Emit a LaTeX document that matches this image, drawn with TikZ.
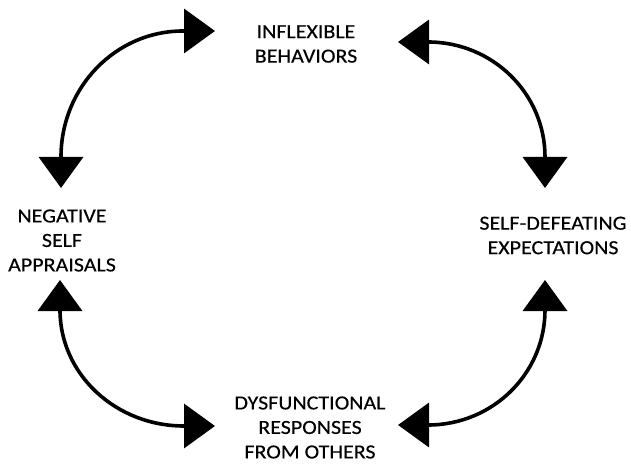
\documentclass[tikz,border=0pt]{standalone}
\usepackage{fontspec}
\setmainfont{Carlito}[FakeStretch=1.1,FakeBold=0.3]
\usetikzlibrary{arrows.meta}
\begin{document}
\begin{tikzpicture}[x=1pt,y=1pt,
  label/.style={align=center,inner sep=0pt,font=\fontsize{20}{24.5}\selectfont},
  cycle/.style={line width=3.6pt,{Triangle[length=31pt,width=44pt]}-{Triangle[length=31pt,width=44pt]}}]
\useasboundingbox (0,0) rectangle (631,466);
\fill[white] (0,0) rectangle (631,466);

% stages of the cycle
\node[label] (inflex) at (306,422) {INFLEXIBLE\\BEHAVIORS};
\node[label] (selfdef) at (553,230.5) {SELF-DEFEATING\\EXPECTATIONS};
\node[label] (dysf) at (310,38.5) {DYSFUNCTIONAL\\RESPONSES\\FROM OTHERS};
\node[label] (negself) at (62,225.5) {NEGATIVE\\SELF\\APPRAISALS};

% arrow end points
\coordinate (tl-a) at (215,435);
\coordinate (tl-b) at (61,278);
\coordinate (tr-a) at (398,424);
\coordinate (tr-b) at (545,278);
\coordinate (br-a) at (545,186);
\coordinate (br-b) at (398,41);
\coordinate (bl-a) at (60,186);
\coordinate (bl-b) at (215,40);

% double-headed curved arrows
\draw[cycle] (tl-a) -- ++(-32,0) arc[start angle=90,end angle=180,x radius=122,y radius=126] -- (tl-b);
\draw[cycle] (tr-a) -- ++(30,0) arc[start angle=90,end angle=0,x radius=117,y radius=115] -- (tr-b);
\draw[cycle] (br-a) -- ++(0,-30) arc[start angle=0,end angle=-90,x radius=117,y radius=115] -- (br-b);
\draw[cycle] (bl-a) -- ++(0,-30) arc[start angle=180,end angle=270,x radius=124,y radius=116] -- (bl-b);
\end{tikzpicture}
\end{document}
